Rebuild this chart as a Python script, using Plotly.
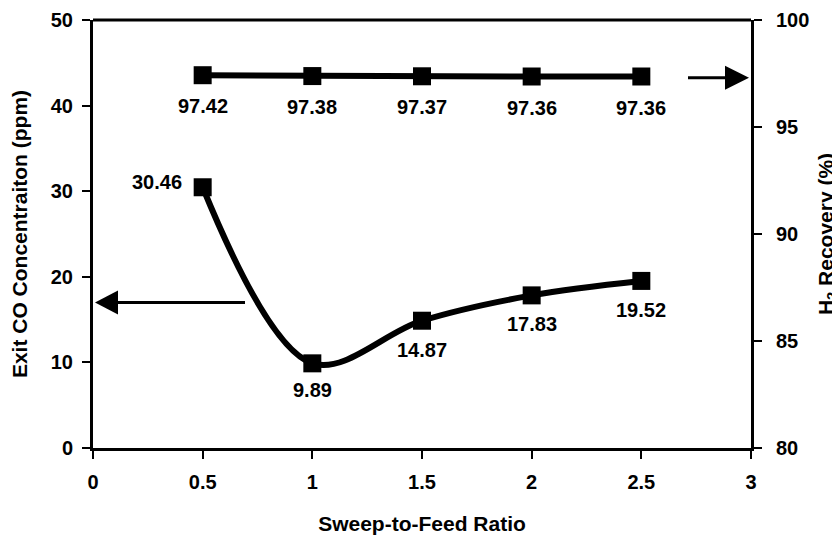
import plotly.graph_objects as go

ratio = [0.5, 1.0, 1.5, 2.0, 2.5]
co_ppm = [30.46, 9.89, 14.87, 17.83, 19.52]
h2_recovery = [97.42, 97.38, 97.37, 97.36, 97.36]
x_ticks = [0, 0.5, 1, 1.5, 2, 2.5, 3]
x_ticklabels = ["0", "0.5", "1", "1.5", "2", "2.5", "3"]

# indicator arrows: (x at tip, y at arrow level) on the axis each series belongs to
co_arrow = (0.0, 17.0)
h2_arrow = (3.0, 97.3)

FONT = "Arial, Liberation Sans, sans-serif"
fig = go.Figure()

fig.add_trace(go.Scatter(
    x=ratio, y=co_ppm, mode="lines+markers",
    line=dict(color="black", width=6, shape="spline", smoothing=1.0),
    marker=dict(symbol="square", size=18, color="black"),
    showlegend=False, yaxis="y", cliponaxis=False))

fig.add_trace(go.Scatter(
    x=ratio, y=h2_recovery, mode="lines+markers",
    line=dict(color="black", width=6),
    marker=dict(symbol="square", size=18, color="black"),
    showlegend=False, yaxis="y2", cliponaxis=False))

lab_font = dict(family=FONT, size=20, color="black", weight="bold")
co_offsets = [(-46, 5), (0, -27), (0, -29), (0, -29), (0, -29)]
for xv, yv, (dx, dy) in zip(ratio, co_ppm, co_offsets):
    fig.add_annotation(x=xv, y=yv, xref="x", yref="y", text=f"{yv:.2f}",
                       showarrow=False, xshift=dx, yshift=dy, font=lab_font)
for xv, yv in zip(ratio, h2_recovery):
    fig.add_annotation(x=xv, y=yv, xref="x", yref="y2", text=f"{yv:.2f}",
                       showarrow=False, yshift=-31, font=lab_font)

shapes = [dict(type="line", xref="paper", yref="paper", x0=0, x1=1, y0=1, y1=1,
               line=dict(color="black", width=3))]
# left-pointing arrow toward CO axis
shapes.append(dict(type="line", xref="x", yref="y", xsizemode="pixel", xanchor=co_arrow[0],
                   x0=12, x1=152, y0=co_arrow[1], y1=co_arrow[1], line=dict(color="black", width=3)))
shapes.append(dict(type="path", xref="x", yref="y", xsizemode="pixel", ysizemode="pixel",
                   xanchor=co_arrow[0], yanchor=co_arrow[1], path="M2,0 L25,12 L25,-12 Z",
                   fillcolor="black", line=dict(width=0)))
# right-pointing arrow toward H2 axis
shapes.append(dict(type="line", xref="x", yref="y2", xsizemode="pixel", xanchor=h2_arrow[0],
                   x0=-63, x1=-15, y0=h2_arrow[1], y1=h2_arrow[1], line=dict(color="black", width=3)))
shapes.append(dict(type="path", xref="x", yref="y2", xsizemode="pixel", ysizemode="pixel",
                   xanchor=h2_arrow[0], yanchor=h2_arrow[1], path="M-2,0 L-26,12 L-26,-12 Z",
                   fillcolor="black", line=dict(width=0)))

title_font = dict(family=FONT, size=21, color="black", weight="bold")
axis_common = dict(showgrid=False, zeroline=False, showline=True, linecolor="black", linewidth=3,
                   ticks="outside", ticklen=8, tickwidth=2, tickcolor="black", automargin=False,
                   tickfont=dict(family=FONT, size=20, color="black", weight="bold"))

# the page body adds an 8px offset, so the figure is 8px smaller than the window
fig.update_layout(
    width=832, height=527,
    margin=dict(l=85, r=89, t=12, b=87),
    plot_bgcolor="white", paper_bgcolor="white",
    xaxis=dict(range=[0, 3], tickvals=x_ticks, ticktext=x_ticklabels, ticklabelstandoff=6,
               title=dict(text="Sweep-to-Feed Ratio", font=title_font, standoff=28),
               **axis_common),
    yaxis=dict(range=[0, 50], dtick=10, ticklabelstandoff=5,
               title=dict(text="Exit CO Concentraiton (ppm)", font=title_font, standoff=19),
               **axis_common),
    yaxis2=dict(range=[80, 100], dtick=5, overlaying="y", side="right", ticklabelstandoff=10,
                title=dict(text="H<sub>2</sub> Recovery (%)", font=title_font, standoff=16),
                **axis_common),
    shapes=shapes,
)

fig.write_html("out.html")
